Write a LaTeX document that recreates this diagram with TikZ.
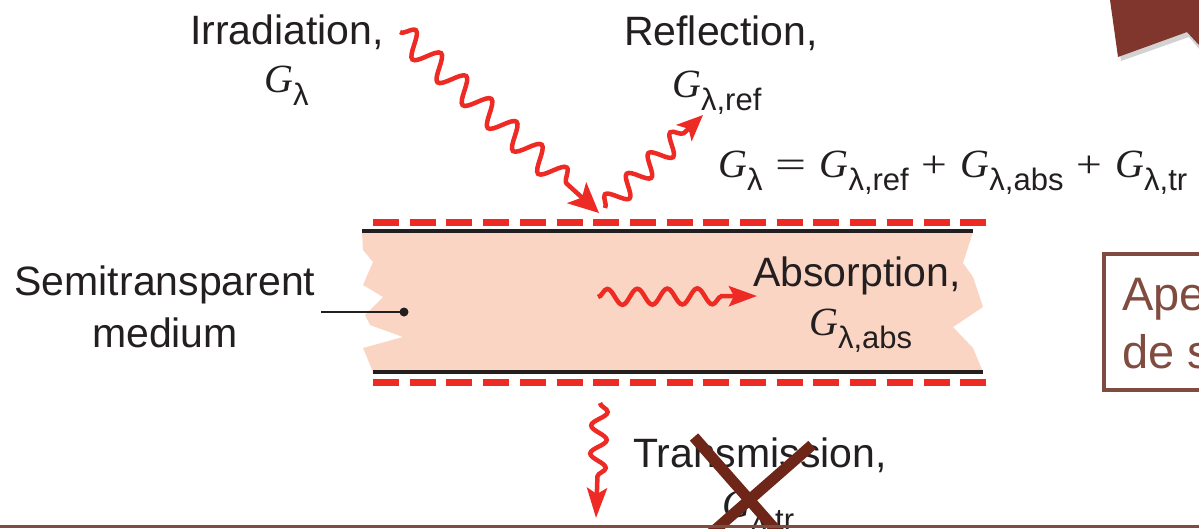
\documentclass[tikz,border=0pt]{standalone}
\usepackage{fontspec}
\usepackage{graphicx}
\setmainfont{Liberation Sans}
\newfontfamily\serifG{Liberation Serif}
\usetikzlibrary{arrows.meta,decorations.pathmorphing}
\definecolor{wred}{RGB}{238,42,36}
\definecolor{peach}{RGB}{251,213,195}
\definecolor{txt}{RGB}{35,31,32}
\definecolor{xbrown}{RGB}{110,38,24}
\definecolor{boxbrown}{RGB}{128,76,64}
\definecolor{tabbrown}{RGB}{128,54,44}
\newcommand{\Gsym}[1]{{\fontsize{40}{42}\selectfont\serifG\itshape G}\kern0pt\raisebox{-13pt}{\fontsize{31}{33}\selectfont #1}}
\newcommand{\opsym}[2]{\hspace{13pt}{\fontsize{38}{40}\selectfont\serifG\scalebox{#2}[1]{#1}}\hspace{13pt}}
\begin{document}
\begin{tikzpicture}[x=1pt,y=-1pt,
  lbl/.style={font=\fontsize{41}{49}\selectfont, text=txt, inner sep=0pt},
  glbl/.style={text=txt, inner sep=0pt},
  wave/.style={draw=wred, line width=4.5pt, decorate},
  reddash/.style={draw=wred, line width=7pt, dash pattern=on 26pt off 10.7pt},
  edgeline/.style={draw=txt, line width=3.5pt},
  xstroke/.style={draw=xbrown, line width=11pt}]
\useasboundingbox (0,0) rectangle (1199,528);
\clip (0,0) rectangle (1199,528);
\fill[white] (0,0) rectangle (1199,528);

% top-right tab with shadow
\fill[black!35, opacity=0.5] (1112,0) -- (1121,61) -- (1189,37) -- (1199,49) -- (1199,0) -- cycle;
\fill[tabbrown] (1110,0) -- (1118,57) -- (1187,32) -- (1199,45) -- (1199,0) -- cycle;

% medium
\fill[peach] (362,232) -- (363,250) -- (373,262) -- (363,285) -- (383,297) -- (365,315)
  -- (370,325) -- (403,337) -- (363,348) -- (373,372) -- (983,372) -- (973,348)
  -- (953,327) -- (983,307) -- (973,277) -- (963,263) -- (973,232) -- cycle;
\coordinate (tl) at (362,231);
\coordinate (tr) at (973,231);
\coordinate (bl) at (373,372);
\coordinate (br) at (983,372);
\draw[edgeline] (tl) -- (tr);
\draw[edgeline] (bl) -- (br);
\coordinate (d1a) at (373,222);
\coordinate (d1b) at (986,222);
\coordinate (d2a) at (373,382);
\coordinate (d2b) at (986,382);
\draw[reddash] (d1a) -- (d1b);
\draw[reddash] (d2a) -- (d2b);

% labels
\node[lbl, anchor=base] (irr) at (287,44) {Irradiation,};
\node[glbl, anchor=base west] (girr) at (264,92) {\Gsym{λ}};
\node[lbl, anchor=base] (refl) at (721,45) {Reflection,};
\node[glbl, anchor=base west] (gref) at (672,97) {\Gsym{λ,ref}};
\node[glbl, anchor=base west] (eq) at (718,177) {\Gsym{λ}\opsym{=}{1.45}\Gsym{λ,ref}\opsym{+}{1.2}\Gsym{λ,abs}\opsym{+}{1.2}\Gsym{λ,tr}};
\node[lbl, anchor=base] (semi) at (165,295) {Semitransparent};
\node[lbl, anchor=base] (med) at (165,347) {medium};
\node[lbl, anchor=base west] (abs) at (753,286) {Absorption,};
\node[glbl, anchor=base west] (gabs) at (809,335) {\Gsym{λ,abs}};
\node[lbl, anchor=base west] (trans) at (633,467) {Transmission,};
\node[glbl, anchor=base west] (gtr) at (722,517) {\Gsym{λ,tr}};

% leader
\coordinate (lead) at (321,312);
\node[circle, fill=txt, inner sep=0pt, minimum size=9pt] (dot) at (404,312) {};
\draw[txt, line width=1.5pt] (lead) -- (dot.center);

% wavy arrows
\coordinate (irrS) at (400,32);
\coordinate (irrE) at (599,213);
\draw[wave, decoration={snake, amplitude=12pt, segment length=34pt, post length=30pt},
  -{Stealth[length=30pt,width=28pt,inset=7pt]}] (irrS) -- (irrE);
\coordinate (refS) at (605,208);
\coordinate (refE) at (703,115);
\draw[wave, decoration={snake, amplitude=10pt, segment length=30pt, post length=24pt},
  -{Stealth[length=26pt,width=22pt,inset=6pt]}] (refS) -- (refE);
\coordinate (absS) at (598,297);
\coordinate (absE) at (757,296);
\draw[wave, decoration={snake, amplitude=8pt, segment length=30pt, post length=30pt},
  -{Stealth[length=28pt,width=20pt,inset=5pt]}] (absS) -- (absE);
\coordinate (trS) at (600,403);
\coordinate (trE) at (596,518);
\draw[wave, decoration={snake, amplitude=8pt, segment length=28pt, post length=38pt},
  -{Stealth[length=30pt,width=20pt,inset=6pt]}] (trS) -- (trE);

% note box (cut off at right)
\node[draw=boxbrown, line width=4pt, minimum width=140pt, minimum height=136pt, inner sep=0pt, anchor=north west] (note) at (1102,252) {};
\node[text=boxbrown, font=\fontsize{47}{50}\selectfont, inner sep=0pt, anchor=base west] (noteA) at (1122,310) {Ape};
\node[text=boxbrown, font=\fontsize{47}{50}\selectfont, inner sep=0pt, anchor=base west] (noteB) at (1122,368) {de s};

% cross
\coordinate (x1a) at (694,437);
\coordinate (x1b) at (782,537);
\coordinate (x2a) at (812,445);
\coordinate (x2b) at (707,537);
\draw[xstroke] (x1a) -- (x1b);
\draw[xstroke] (x2a) -- (x2b);

% bottom bar
\fill[boxbrown] (0,525) rectangle (1199,528);
\end{tikzpicture}
\end{document}
